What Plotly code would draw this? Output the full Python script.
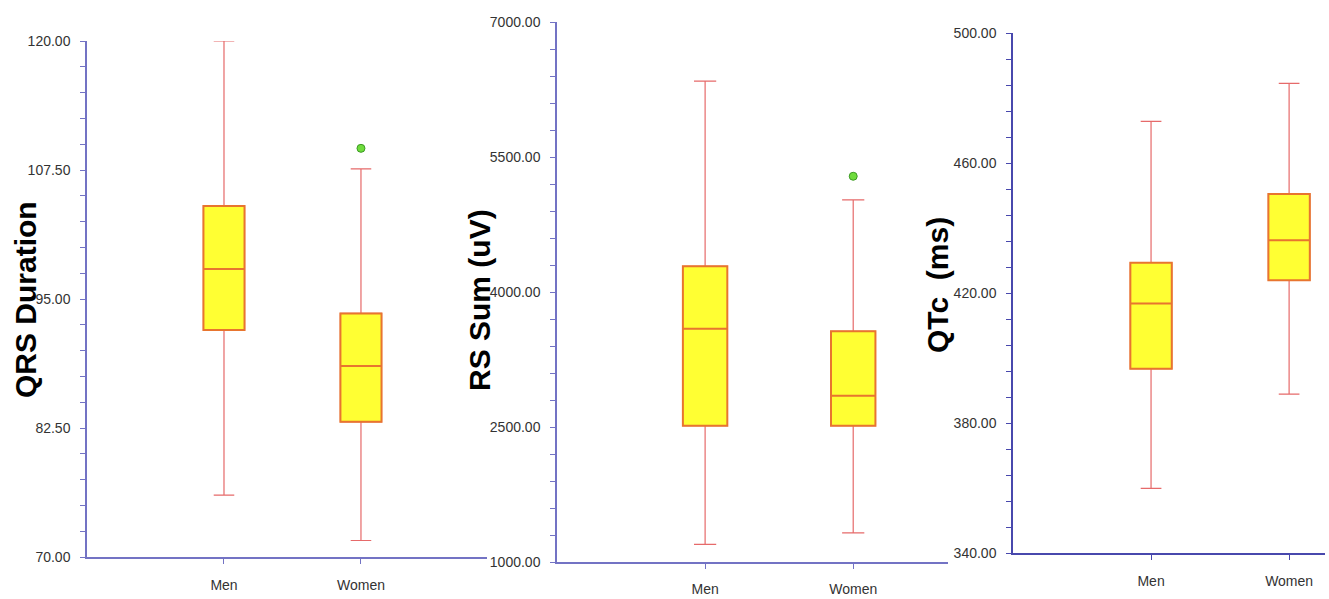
import plotly.graph_objects as go

# ---------------- data ----------------
groups = ["Men", "Women"]

qrs_lower = [76.0, 71.6]
qrs_q1 = [92.0, 83.1]
qrs_median = [97.9, 88.5]
qrs_q3 = [104.0, 93.6]
qrs_upper = [120.0, 107.6]
qrs_outlier_group = ["Women"]
qrs_outlier_value = [109.6]

rs_lower = [1196, 1323]
rs_q1 = [2515, 2515]
rs_median = [3593, 2846]
rs_q3 = [4285, 3563]
rs_upper = [6342, 5023]
rs_outlier_group = ["Women"]
rs_outlier_value = [5286]

qtc_lower = [359.9, 388.9]
qtc_q1 = [396.7, 423.9]
qtc_median = [416.8, 436.2]
qtc_q3 = [429.3, 450.5]
qtc_upper = [472.8, 484.5]
qtc_outlier_group = []
qtc_outlier_value = []

titles = ["QRS Duration", "RS Sum (uV)", "QTc\u00a0 (ms)"]

# ---------------- styling ----------------
W, H = 1329, 599
FONT = "Arial, 'Liberation Sans', sans-serif"
FILL = "#ffff33"
BOX_LINE = "#e8752f"
WHISKER = "#e66a6a"
AXIS_COLORS = ["#7373c4", "#7373c4", "#4848ad"]

panels = [
    dict(lower=qrs_lower, q1=qrs_q1, med=qrs_median, q3=qrs_q3, upper=qrs_upper,
         og=qrs_outlier_group, ov=qrs_outlier_value,
         xdom=(87, 487), ytop=41, ybot=557, xr=(-1, 1.92), yr=(70, 120),
         dtick=12.5, minor=2.5, title_x=25, title_y=300, xstand=9),
    dict(lower=rs_lower, q1=rs_q1, med=rs_median, q3=rs_q3, upper=rs_upper,
         og=rs_outlier_group, ov=rs_outlier_value,
         xdom=(557, 948), ytop=22, ybot=562, xr=(-1, 1.64), yr=(1000, 7000),
         dtick=1500, minor=300, title_x=479, title_y=300, xstand=8),
    dict(lower=qtc_lower, q1=qtc_q1, med=qtc_median, q3=qtc_q3, upper=qtc_upper,
         og=qtc_outlier_group, ov=qtc_outlier_value,
         xdom=(1013, 1325), ytop=33, ybot=553, xr=(-1, 1.26), yr=(340, 500),
         dtick=40, minor=8, title_x=937, title_y=285, xstand=9),
]

fig = go.Figure()
layout = dict(
    width=W, height=H,
    margin=dict(l=0, r=0, t=0, b=0, autoexpand=False),
    paper_bgcolor="white", plot_bgcolor="white",
    showlegend=False,
    font=dict(family=FONT, color="#333333", size=14),
    annotations=[],
)

for i, p in enumerate(panels):
    n = "" if i == 0 else str(i + 1)
    xa, ya = "x" + n, "y" + n
    # whiskers (and underlying box)
    fig.add_trace(go.Box(
        x=groups, q1=p["q1"], median=p["med"], q3=p["q3"],
        lowerfence=p["lower"], upperfence=p["upper"],
        fillcolor=FILL, line=dict(color=WHISKER, width=1.2),
        width=0.3, whiskerwidth=0.5, boxpoints=False, hoverinfo="skip",
        xaxis=xa, yaxis=ya))
    # box body with orange outline on top
    fig.add_trace(go.Box(
        x=groups, q1=p["q1"], median=p["med"], q3=p["q3"],
        lowerfence=p["q1"], upperfence=p["q3"],
        fillcolor=FILL, line=dict(color=BOX_LINE, width=2),
        width=0.3, whiskerwidth=0, boxpoints=False,
        xaxis=xa, yaxis=ya))
    if p["ov"]:
        fig.add_trace(go.Scatter(
            x=p["og"], y=p["ov"], mode="markers",
            marker=dict(color="#6fdc3c", size=8, line=dict(color="#3d9a25", width=1)),
            xaxis=xa, yaxis=ya))

    ac = AXIS_COLORS[i]
    layout["xaxis" + n] = dict(
        domain=[p["xdom"][0] / W, p["xdom"][1] / W],
        anchor=ya, type="category", range=list(p["xr"]),
        showline=True, linecolor=ac, linewidth=1.5,
        ticks="outside", ticklen=5, tickcolor=ac, tickwidth=1,
        ticklabelstandoff=p["xstand"], showgrid=False, zeroline=False, automargin=False,
        tickfont=dict(size=14, color="#333333"),
    )
    layout["yaxis" + n] = dict(
        domain=[(H - p["ybot"]) / H, (H - p["ytop"]) / H],
        anchor=xa, range=list(p["yr"]),
        tick0=p["yr"][0], dtick=p["dtick"], tickformat=".2f",
        showline=True, linecolor=ac, linewidth=1.5,
        ticks="outside", ticklen=5, tickcolor=ac, tickwidth=1,
        ticklabelstandoff=7, showgrid=False, zeroline=False, automargin=False,
        tickfont=dict(size=14, color="#333333"),
        minor=dict(dtick=p["minor"], tick0=p["yr"][0], ticks="outside",
                   ticklen=5, tickcolor=ac, showgrid=False),
    )
    layout["annotations"].append(dict(
        text="<b>%s</b>" % titles[i], textangle=-90,
        x=p["title_x"] / W, y=(H - p["title_y"]) / H,
        xref="paper", yref="paper", xanchor="center", yanchor="middle",
        showarrow=False, font=dict(size=30, color="black", family=FONT),
    ))

fig.update_layout(**layout)
fig.write_html(
    "out.html",
    config={"displayModeBar": False},
    post_script="document.body.style.margin='0';document.body.style.overflow='hidden';",
)
